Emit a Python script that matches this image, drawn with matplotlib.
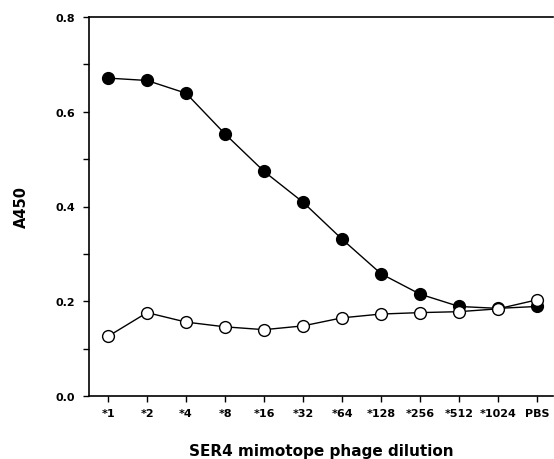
#!/usr/bin/env python3

import numpy as np
import matplotlib
matplotlib.use("Agg")
import matplotlib.pyplot as plt
from matplotlib.ticker import MultipleLocator, FormatStrFormatter

# Data
dilutions = ["*1", "*2", "*4", "*8", "*16", "*32", "*64", "*128", "*256", "*512", "*1024", "PBS"]
ser4_a450 = [0.671, 0.666, 0.639, 0.553, 0.474, 0.409, 0.331, 0.258, 0.215, 0.189, 0.185, 0.189]
control_a450 = [0.126, 0.176, 0.156, 0.146, 0.140, 0.148, 0.165, 0.173, 0.176, 0.178, 0.184, 0.203]

plt.rcParams['font.family'] = ['DejaVu Sans']
plt.rcParams['font.weight'] = 'bold'

fig = plt.figure(figsize=(5.54, 4.60), dpi=100)
ax = fig.add_axes([89 / 554, 63 / 460, 464 / 554, 379 / 460])

x = np.arange(len(dilutions))
ax.plot(x, ser4_a450, color='black', linewidth=1, marker='o', markersize=8.5,
        markerfacecolor='black', markeredgecolor='black', zorder=3)
ax.plot(x, control_a450, color='black', linewidth=1, marker='o', markersize=8.5,
        markerfacecolor='white', markeredgecolor='black', markeredgewidth=1, zorder=4)

ax.set_xlim(-0.49, 11.41)
ax.set_ylim(0, 0.8)
ax.set_xticks(x)
ax.set_xticklabels(dilutions)
ax.yaxis.set_major_locator(MultipleLocator(0.2))
ax.yaxis.set_minor_locator(MultipleLocator(0.1))
ax.yaxis.set_major_formatter(FormatStrFormatter('%.1f'))

ax.tick_params(axis='both', which='both', direction='out', length=4, width=1,
               labelsize=8, colors='black')
ax.tick_params(axis='x', pad=5)
ax.tick_params(axis='y', pad=6)

ax.set_ylabel("A450", fontsize=10.5, fontweight='bold', labelpad=19)
ax.set_xlabel("SER4 mimotope phage dilution", fontsize=11, fontweight='bold', labelpad=18)

ax.spines['right'].set_visible(False)
for s in ['left', 'bottom', 'top']:
    ax.spines[s].set_linewidth(1.2)
    ax.spines[s].set_color('black')

fig.patch.set_facecolor('white')
fig.savefig("out.png", dpi=100)
